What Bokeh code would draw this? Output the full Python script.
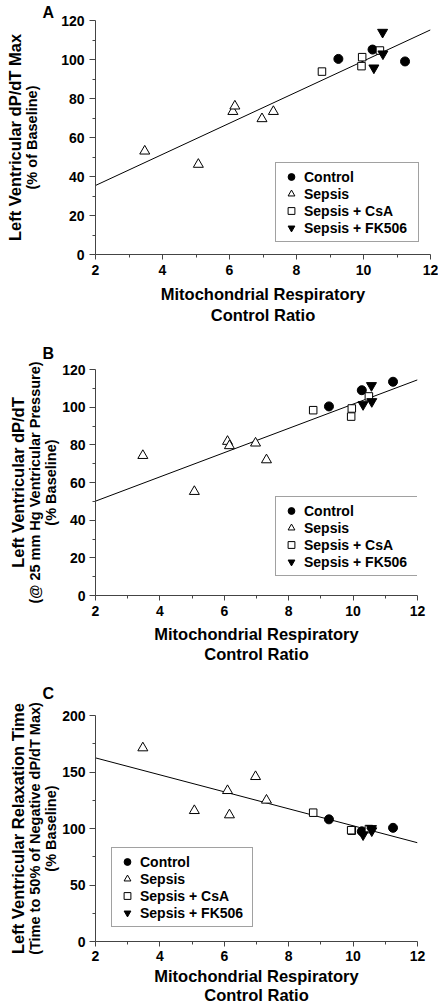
from bokeh.plotting import figure
from bokeh.models import Range1d, LinearAxis, FixedTicker, Legend, LegendItem, Title
from bokeh.embed import file_html
from bokeh.resources import INLINE

FONT = "Liberation Sans"
AXC = "#444444"

# ---- data ----
series_names = ["Control", "Sepsis", "Sepsis + CsA", "Sepsis + FK506"]
control_x = [9.25, 10.27, 11.24]
sepsis_x = [3.47, 5.07, 6.10, 6.16, 6.97, 7.31]
csa_x = [8.76, 9.96, 9.94, 10.49]
fk506_x = [10.57, 10.31, 10.58]

a_control = [100.3, 105.1, 99.0]
a_sepsis = [53.0, 46.2, 73.3, 76.1, 69.6, 73.3]
a_csa = [93.8, 101.2, 96.6, 104.6]
a_fk506 = [114.0, 95.7, 102.9]

b_control = [100.4, 109.0, 113.5]
b_sepsis = [74.3, 55.2, 81.8, 79.5, 80.9, 72.0]
b_csa = [98.4, 99.3, 95.0, 105.7]
b_fk506 = [111.5, 101.4, 103.0]

c_control = [108.1, 97.5, 100.6]
c_sepsis = [171.3, 115.8, 133.5, 112.0, 145.9, 125.0]
c_csa = [114.0, 98.1, 98.5, 99.5]
c_fk506 = [100.0, 94.5, 98.0]

fit_x = [2, 12]
a_fit = [35.4, 115.2]
b_fit = [50.1, 114.5]
c_fit = [162.5, 87.4]

x_ticks = [2, 4, 6, 8, 10, 12]
x_minor = [3, 5, 7, 9, 11]
ab_yticks = [0, 20, 40, 60, 80, 100, 120]
ab_yminor = [10, 30, 50, 70, 90, 110]
c_yticks = [0, 50, 100, 150, 200]
c_yminor = [25, 75, 125, 175]

x_title = ["Mitochondrial Respiratory", "Control Ratio"]
a_ytitle = ["Left Ventricular dP/dT Max", "(% of Baseline)"]
b_ytitle = ["Left Ventricular dP/dT", "(@ 25 mm Hg Ventricular Pressure)", "(% Baseline)"]
c_ytitle = ["Left Ventricular Relaxation Time", "(Time to 50% of Negative dP/dT Max)", "(% Baseline)"]


def title_axis(label, size, standoff):
    return LinearAxis(
        ticker=FixedTicker(ticks=[]), axis_label=label, axis_label_standoff=standoff,
        axis_label_text_font=FONT, axis_label_text_font_style="bold",
        axis_label_text_font_size=size, axis_label_text_color="black",
        axis_line_color=None, major_tick_line_color=None, minor_tick_line_color=None,
        major_tick_out=0, major_tick_in=0, minor_tick_out=0, minor_tick_in=0,
        major_label_text_font_size="0px")


def style_axis(ax, ticks, minor, tick_out, lab_standoff, label, size, standoff):
    ax.ticker = FixedTicker(ticks=ticks, minor_ticks=minor)
    ax.axis_line_color = AXC
    ax.major_tick_line_color = AXC
    ax.minor_tick_line_color = AXC
    ax.major_tick_out = tick_out
    ax.major_tick_in = 0
    ax.minor_tick_out = 3
    ax.minor_tick_in = 0
    ax.major_label_text_font = FONT
    ax.major_label_text_font_style = "bold"
    ax.major_label_text_font_size = "14px"
    ax.major_label_text_color = "black"
    ax.major_label_standoff = lab_standoff
    ax.axis_label = label
    ax.axis_label_text_font = FONT
    ax.axis_label_text_font_style = "bold"
    ax.axis_label_text_font_size = size
    ax.axis_label_text_color = "black"
    ax.axis_label_standoff = standoff


def panel(letter, height, btop, bbottom, bright, ymax, yticks, yminor, ytitle,
          ys, fit_y, legend_loc, legend_w, letter_standoff, ystandoffs, xstandoffs):
    p = figure(width=438, height=height, x_range=Range1d(2, 12), y_range=Range1d(0, ymax),
               output_backend="svg", toolbar_location=None,
               min_border_left=95, min_border_right=bright,
               min_border_top=btop, min_border_bottom=bbottom)
    p.grid.visible = False
    p.outline_line_color = None
    p.background_fill_color = "white"
    p.border_fill_color = "white"

    style_axis(p.below[0], x_ticks, x_minor, 5, xstandoffs[0], x_title[0], "16.5px", xstandoffs[1])
    p.add_layout(title_axis(x_title[1], "16.5px", xstandoffs[2]), "below")

    style_axis(p.left[0], yticks, yminor, 6, ystandoffs[0], ytitle[-1], "14.5px", ystandoffs[1])
    outer = list(reversed(ytitle[:-1]))
    for i, t in enumerate(outer):
        size = "16.5px" if i == len(outer) - 1 else "14.5px"
        p.add_layout(title_axis(t, size, ystandoffs[i + 2]), "left")

    p.line(fit_x, fit_y, line_color="black", line_width=1)
    r_c = p.scatter(control_x, ys[0], marker="circle", size=9,
                    fill_color="black", line_color="black")
    r_s = p.scatter(sepsis_x, ys[1], marker="triangle", size=10,
                    fill_color="white", line_color="black", line_width=1)
    r_q = p.scatter(csa_x, ys[2], marker="square", size=7.5,
                    fill_color="white", line_color="black", line_width=1)
    r_f = p.scatter(fk506_x, ys[3], marker="inverted_triangle", size=10,
                    fill_color="black", line_color="black")

    items = [LegendItem(label=n, renderers=[r]) for n, r in zip(series_names, [r_c, r_s, r_q, r_f])]
    leg = Legend(items=items, location=legend_loc, padding=5, spacing=0, margin=0,
                 glyph_width=20, glyph_height=17, label_height=17, label_width=legend_w,
                 label_standoff=3, border_line_color=AXC, border_line_width=1,
                 background_fill_color="white", background_fill_alpha=1.0,
                 label_text_font=FONT, label_text_font_style="bold",
                 label_text_font_size="14px", label_text_color="black")
    p.add_layout(leg, "center")

    p.add_layout(Title(text=letter, align="left", offset=-53, standoff=letter_standoff,
                       text_font=FONT, text_font_style="bold", text_font_size="16px",
                       text_color="black"), "above")
    return p


pA = panel("A", 330, 20, 76, 8, 120, ab_yticks, ab_yminor, a_ytitle,
           [a_control, a_sepsis, a_csa, a_fk506], a_fit, (180, 12), 109, 0,
           [5, 18, -2], [5, 7, 0])
pB = panel("B", 335, 39, 70, 21, 120, ab_yticks, ab_yminor, b_ytitle,
           [b_control, b_sepsis, b_csa, b_fk506], b_fit, (180, 19), 109, 16,
           [4, 0, -2, -3], [5, 6, -1])
pC = panel("C", 343, 50, 67, 21, 200, c_yticks, c_yminor, c_ytitle,
           [c_control, c_sepsis, c_csa, c_fk506], c_fit, (16, 14), 107, 27,
           [4, 0, -2, -3], [4, 3, -2])

open("out.html", "w").write(file_html([pA, pB, pC], INLINE))
